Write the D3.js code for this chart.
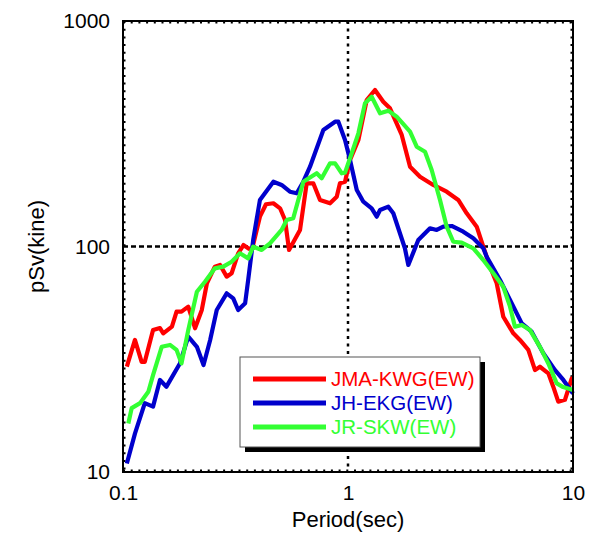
<!DOCTYPE html>
<html><head><meta charset="utf-8">
<script src="https://cdn.jsdelivr.net/npm/d3@7"></script>
<style>body{margin:0;background:#fff}svg{display:block}</style>
</head><body>
<script>
const xTicks = [0.1, 1, 10];
const yTicks = [10, 100, 1000];
const seriesNames = ["JMA-KWG(EW)", "JH-EKG(EW)", "JR-SKW(EW)"];
const seriesColors = ["#ff0000", "#0000cc", "#33ff33"];

const redPts = [[0.104,29.3],[0.113,38.5],[0.121,30.8],[0.125,30.8],[0.136,42.6],[0.146,43.5],[0.151,41.2],[0.165,44.1],[0.173,51.4],[0.182,51.4],[0.195,54.1],[0.209,43.4],[0.224,52.3],[0.236,68.7],[0.256,81.4],[0.270,82.8],[0.289,73.5],[0.304,76.1],[0.325,93.3],[0.343,101.5],[0.360,98.2],[0.374,96.5],[0.406,135.6],[0.432,154],[0.466,155.5],[0.499,147.7],[0.525,131],[0.547,96.5],[0.612,118.4],[0.655,190.6],[0.701,190.6],[0.751,160.8],[0.832,155.5],[0.891,166.3],[0.921,190.6],[0.970,193.8],[1.021,241.9],[1.112,296.7],[1.211,446.4],[1.318,494.4],[1.435,438.7],[1.537,410],[1.733,312.4],[1.887,225.9],[2.089,204],[2.393,187.4],[2.746,175],[3.091,160.8],[3.37,140.4],[3.733,122.4],[3.993,99.8],[4.277,81.4],[4.58,68.7],[4.90,48.8],[5.43,41.2],[5.81,38.5],[6.33,34.8],[6.78,28.3],[7.13,29.3],[7.77,27.4],[8.17,23.9],[8.60,20.5],[9.21,20.9],[9.87,26.0],[10,26.1]];
const bluePts = [[0.104,10.9],[0.113,14.8],[0.125,20.2],[0.136,19.5],[0.146,25.6],[0.156,23.9],[0.179,30.3],[0.195,39.8],[0.213,35.9],[0.228,29.8],[0.244,38.5],[0.261,52.3],[0.289,62.0],[0.309,58.9],[0.325,52.3],[0.349,56.0],[0.360,71.0],[0.379,106.9],[0.406,160.8],[0.466,193.8],[0.507,187.4],[0.552,175],[0.592,172.2],[0.633,193.8],[0.678,225.9],[0.777,328.6],[0.876,357.6],[0.906,357.6],[0.970,296.7],[1.021,241.9],[1.094,178.1],[1.17,158],[1.274,147.7],[1.342,135.6],[1.388,145.2],[1.511,150.2],[1.59,140.4],[1.79,98.2],[1.854,82.8],[2.053,106.9],[2.314,120.4],[2.479,118.4],[2.652,122.4],[2.89,123.3],[3.253,116.3],[3.605,108.7],[3.993,98.2],[4.135,90.1],[4.74,71.0],[5.25,57.9],[5.92,45.6],[6.55,41.9],[7.38,33.6],[8.32,28.3],[9.06,25.6],[10,22.3]];
const greenPts = [[0.1056,16.4],[0.1093,19.2],[0.119,20.2],[0.1296,22.7],[0.136,26.9],[0.1486,35.9],[0.1618,36.6],[0.173,34.8],[0.182,30.3],[0.195,42.6],[0.213,63.0],[0.2314,69.8],[0.256,80.0],[0.279,81.4],[0.304,85.6],[0.331,93.3],[0.360,88.6],[0.379,99.8],[0.4135,96.5],[0.45,103.3],[0.507,118.4],[0.534,131],[0.571,133.4],[0.633,193.8],[0.726,211.2],[0.764,200.6],[0.832,233.8],[0.876,233.8],[0.938,211.2],[0.970,212.5],[1.039,259],[1.112,317.7],[1.19,431.5],[1.274,461.6],[1.388,389.7],[1.511,400.3],[1.646,376.3],[1.887,322.9],[2.02,277.1],[2.199,263.3],[2.355,218.4],[2.564,160.8],[2.746,122.4],[2.938,105.0],[3.20,104],[3.605,98.2],[3.993,87.1],[4.425,76.1],[4.90,66.3],[5.25,54.1],[5.52,44.1],[5.92,44.9],[6.44,42.6],[7.13,35.9],[7.77,30.3],[8.47,24.7],[9.04,23.8],[10,23.1]];
const seriesData = [redPts, bluePts, greenPts];

const W = 595, H = 533;
const L = 123, T = 21, R = 573, B = 472;
const svg = d3.select("body").append("svg").attr("width", W).attr("height", H);
const x = d3.scaleLog().domain([0.1, 10]).range([L, R]);
const y = d3.scaleLog().domain([10, 1000]).range([B, T]);
const font = "Arial, 'Liberation Sans', Helvetica, sans-serif";

// grid
svg.append("line").attr("x1", x(1)).attr("x2", x(1)).attr("y1", T).attr("y2", B)
  .attr("stroke", "#000").attr("stroke-width", 2.5).attr("stroke-dasharray", "3,4.5");
svg.append("line").attr("x1", L).attr("x2", R).attr("y1", y(100)).attr("y2", y(100))
  .attr("stroke", "#000").attr("stroke-width", 2.5).attr("stroke-dasharray", "5,3");

// frame nubs
const nub = svg.append("g").attr("stroke", "#000").attr("stroke-width", 2).attr("stroke-dasharray", "2,5.7");
nub.append("line").attr("x1", L + 1.5).attr("x2", L + 1.5).attr("y1", T).attr("y2", B);
nub.append("line").attr("x1", R - 1.5).attr("x2", R - 1.5).attr("y1", T).attr("y2", B);
nub.append("line").attr("x1", L).attr("x2", R).attr("y1", T + 1.5).attr("y2", T + 1.5);
nub.append("line").attr("x1", L).attr("x2", R).attr("y1", B - 1.5).attr("y2", B - 1.5);

// series
const line = d3.line().x(d => x(d[0])).y(d => y(d[1]));
seriesData.forEach((pts, i) => {
  svg.append("path").datum(pts).attr("d", line).attr("fill", "none")
    .attr("stroke", seriesColors[i]).attr("stroke-width", 4.2)
    .attr("stroke-linejoin", "round").attr("stroke-linecap", "butt");
});

// frame
svg.append("rect").attr("x", L).attr("y", T).attr("width", R - L).attr("height", B - T)
  .attr("fill", "none").attr("stroke", "#000").attr("stroke-width", 2);

// axes
const xAxis = svg.append("g").attr("transform", `translate(0,${B})`)
  .call(d3.axisBottom(x).tickValues(xTicks).tickFormat(d => String(d)).tickSize(0).tickPadding(13));
xAxis.select(".domain").remove();
xAxis.selectAll("text").attr("font-family", font).attr("font-size", 21).attr("fill", "#000");
const yAxis = svg.append("g").attr("transform", `translate(${L},0)`)
  .call(d3.axisLeft(y).tickValues(yTicks).tickFormat(d => String(d)).tickSize(0).tickPadding(13));
yAxis.select(".domain").remove();
yAxis.selectAll("text").attr("font-family", font).attr("font-size", 21).attr("fill", "#000");

svg.append("text").attr("x", (L + R) / 2).attr("y", 527).attr("text-anchor", "middle")
  .attr("font-family", font).attr("font-size", 22).text("Period(sec)");
svg.append("text").attr("transform", `translate(44,${(T + B) / 2}) rotate(-90)`).attr("text-anchor", "middle")
  .attr("font-family", font).attr("font-size", 22).text("pSv(kine)");

// legend
const lg = svg.append("g");
lg.append("rect").attr("x", 245).attr("y", 362).attr("width", 240).attr("height", 90).attr("fill", "#000");
lg.append("rect").attr("x", 240).attr("y", 357).attr("width", 240).attr("height", 90)
  .attr("fill", "#fff").attr("stroke", "#555").attr("stroke-width", 1);
seriesNames.forEach((n, i) => {
  const yy = 379 + i * 24;
  lg.append("line").attr("x1", 253).attr("x2", 326).attr("y1", yy).attr("y2", yy)
    .attr("stroke", seriesColors[i]).attr("stroke-width", 5);
  lg.append("text").attr("x", 331).attr("y", yy + 7).attr("font-family", font).attr("font-size", 20.5)
    .attr("fill", seriesColors[i]).text(n);
});
</script>
</body></html>
